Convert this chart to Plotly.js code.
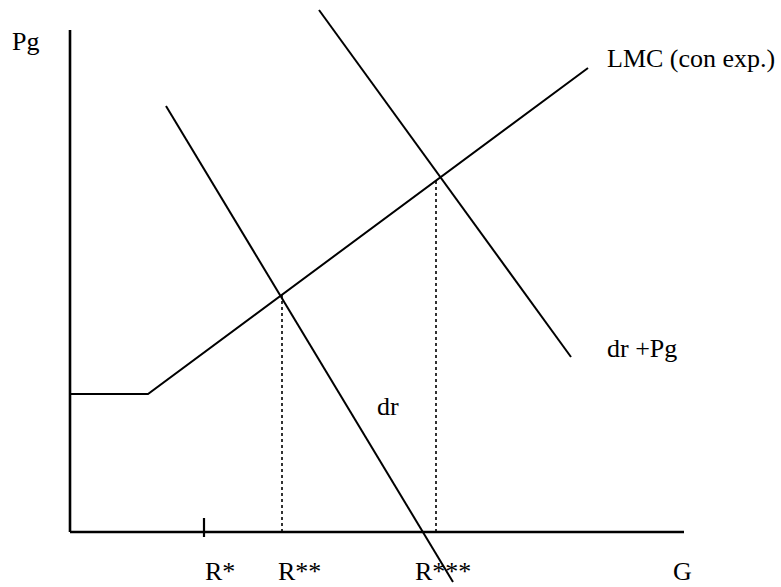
<!DOCTYPE html>
<html>
<head>
<meta charset="utf-8">
<script src="https://cdn.plot.ly/plotly-3.0.1.min.js"></script>
<style>html,body{margin:0;padding:0;background:#fff;}#chart{width:781px;height:587px;}</style>
</head>
<body>
<div id="chart"></div>
<script>
// Conceptual diagram values (G horizontal, Pg vertical; origin at axes corner)
const axisX = [0, 614];          // G axis extent
const axisY = [0, 502];          // Pg axis extent
const lmcG = [0, 78, 518];
const lmcP = [138, 138, 464];
const drG = [96, 383];
const drP = [426, -50];
const drPgG = [249, 501];
const drPgP = [522, 175];
const rStarG = 134;              // R*
const rStar2G = 212;             // R**
const rStar2P = 237;
const rStar3G = 366;             // R***
const rStar3P = 354;
const tickLabels = ["R*", "R**", "R***"];
const tickLabelG = [134, 207, 344];
const curveLabels = ["LMC (con exp.)", "dr +Pg", "dr"];
const curveLabelG = [536, 536, 306];
const curveLabelP = [474, 184, 126];

const black = '#000';
const line = (x, y, w, dash) => ({x: x, y: y, type: 'scatter', mode: 'lines',
  line: {color: black, width: w, dash: dash || 'solid'}, hoverinfo: 'skip', showlegend: false});

const traces = [
  line([0, 0], axisY, 2.6),
  line(axisX, [0, 0], 2.6),
  line([rStarG, rStarG], [-5, 14], 2.2),
  line([rStar2G, rStar2G], [0, rStar2P], 1.6, 'dot'),
  line([rStar3G, rStar3G], [0, rStar3P], 1.6, 'dot'),
  line(lmcG, lmcP, 2),
  line(drG, drP, 2),
  line(drPgG, drPgP, 2)
];

const font = {family: '"Liberation Serif", "Times New Roman", serif', size: 26, color: black};
const ann = (x, y, t) => ({x: x, y: y, text: t, showarrow: false, xanchor: 'left',
  yanchor: 'middle', borderpad: 0, font: font});
const bottomAnn = (x, t) => ({x: x, xref: 'x', y: 0, yref: 'paper', text: t, showarrow: false,
  xanchor: 'left', yanchor: 'bottom', borderpad: 0, font: font});
const annotations = [ann(-59, 491, 'Pg'), bottomAnn(602, 'G')];
tickLabels.forEach((t, i) => annotations.push(bottomAnn(tickLabelG[i], t)));
curveLabels.forEach((t, i) => annotations.push(ann(curveLabelG[i], curveLabelP[i], t)));

const layout = {
  width: 781, height: 587,
  margin: {l: 0, r: 0, t: 0, b: 0},
  paper_bgcolor: '#fff', plot_bgcolor: '#fff',
  xaxis: {range: [-70, 711], visible: false, fixedrange: true},
  yaxis: {range: [-55, 532], visible: false, fixedrange: true},
  showlegend: false,
  annotations: annotations
};
Plotly.newPlot('chart', traces, layout, {staticPlot: true, displayModeBar: false});
</script>
</body>
</html>
